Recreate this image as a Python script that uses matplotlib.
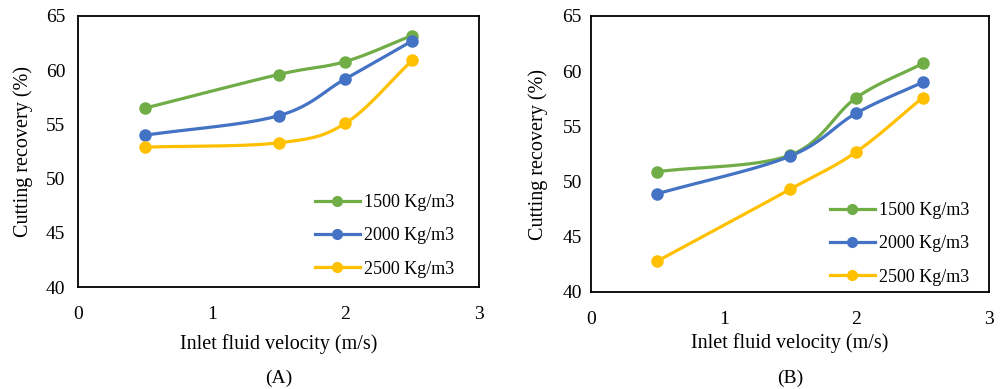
import matplotlib.pyplot as plt
import numpy as np

plt.rcParams['font.family'] = ['Liberation Serif', 'DejaVu Serif']

velocity = [0.5, 1.5, 2.0, 2.5]
labels = ['1500 Kg/m3', '2000 Kg/m3', '2500 Kg/m3']
colors = ['#70AD47', '#4472C4', '#FFC000']

# panel A
recovery_a = [
    [56.5, 59.6, 60.8, 63.2],
    [54.0, 55.8, 59.2, 62.7],
    [52.9, 53.3, 55.1, 60.9],
]
# panel B
recovery_b = [
    [50.9, 52.4, 57.6, 60.7],
    [48.9, 52.3, 56.2, 59.0],
    [42.8, 49.3, 52.7, 57.6],
]


def smooth(x, y, n=30):
    # Catmull-Rom style curve through the points, like Excel's smoothed line
    x = np.asarray(x, float)
    y = np.asarray(y, float)
    px = np.concatenate([[2 * x[0] - x[1]], x, [2 * x[-1] - x[-2]]])
    py = np.concatenate([[2 * y[0] - y[1]], y, [2 * y[-1] - y[-2]]])
    xs, ys = [], []
    t = np.linspace(0, 1, n)
    for i in range(1, len(px) - 2):
        p0, p1, p2, p3 = px[i - 1], px[i], px[i + 1], px[i + 2]
        q0, q1, q2, q3 = py[i - 1], py[i], py[i + 1], py[i + 2]
        bx = [p1, p1 + (p2 - p0) / 6, p2 - (p3 - p1) / 6, p2]
        by = [q1, q1 + (q2 - q0) / 6, q2 - (q3 - q1) / 6, q2]
        b = [(1 - t) ** 3, 3 * (1 - t) ** 2 * t, 3 * (1 - t) * t ** 2, t ** 3]
        xs.extend(sum(b[k] * bx[k] for k in range(4)))
        ys.extend(sum(b[k] * by[k] for k in range(4)))
    return xs, ys


fig = plt.figure(figsize=(10.01, 3.89), dpi=100)
ax_a = fig.add_axes([78 / 1001, 1 - 287 / 389, 401 / 1001, 271 / 389])
ax_b = fig.add_axes([591 / 1001, 1 - 292 / 389, 398 / 1001, 276 / 389])

panels = [
    (ax_a, recovery_a, '(A)', 9, -0.21, -0.137, -0.336, (0.59, 0.343)),
    (ax_b, recovery_b, '(B)', 6.5, -0.185, -0.133, -0.312, (0.60, 0.326)),
]

for ax, data, tag, ypad, xl_y, yl_x, tag_y, leg_pos in panels:
    for vals, lab, col in zip(data, labels, colors):
        sx, sy = smooth(velocity, vals)
        ax.plot(sx, sy, color=col, lw=2.3, zorder=2)
        ax.plot(velocity, vals, 'o', color=col, ms=8, zorder=3)
        ax.plot([], [], '-o', color=col, lw=2.3, ms=7, label=lab)
    ax.set_xlim(0, 3)
    ax.set_ylim(40, 65)
    ax.set_xticks([0, 1, 2, 3])
    ax.set_yticks(range(40, 66, 5))
    ax.tick_params(length=0, labelsize=14)
    ax.tick_params(axis='x', pad=14)
    ax.tick_params(axis='y', pad=ypad)
    for s in ax.spines.values():
        s.set_linewidth(1.3)
        s.set_color('black')
    ax.set_xlabel('Inlet fluid velocity (m/s)', fontsize=14.5)
    ax.set_ylabel('Cutting recovery (%)', fontsize=14.5)
    ax.xaxis.set_label_coords(0.5, xl_y)
    ax.yaxis.set_label_coords(yl_x, 0.5)
    ax.xaxis.label.set_va('center')
    ax.yaxis.label.set_va('center')
    ax.text(0.5, tag_y, tag, transform=ax.transAxes, ha='center', va='center', fontsize=14)
    ax.legend(loc='upper left', bbox_to_anchor=leg_pos, frameon=False, fontsize=13,
              borderpad=0, borderaxespad=0, handlelength=2.5, handletextpad=0.22,
              labelspacing=0.9)

fig.savefig('out.png', dpi=100)
